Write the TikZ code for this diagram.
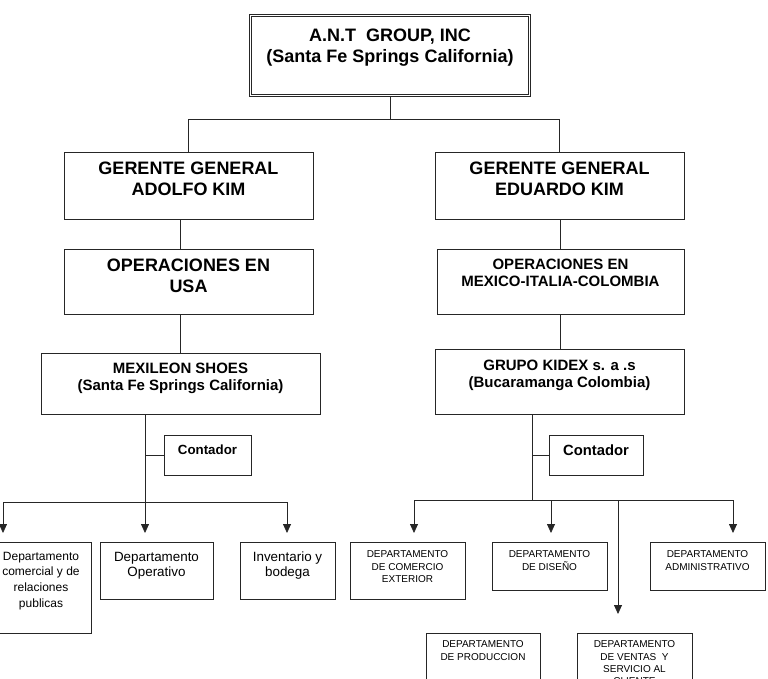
\documentclass[tikz,border=0pt]{standalone}
\usepackage{fontspec}
\setmainfont{Liberation Sans}
\usetikzlibrary{positioning,arrows.meta}
\tikzset{
  orgbox/.style={draw=black!85,line width=0.8pt,rectangle,inner sep=0pt},
  topbox/.style={orgbox,double,double distance=1.6pt},
  boxtxt/.style={inner sep=0pt,align=center,anchor=north},
  bigtxt/.style={boxtxt,font={\bfseries\fontsize{18}{20.7}\selectfont}},
  midtxt/.style={boxtxt,font={\bfseries\fontsize{15}{17.3}\selectfont}},
  deptxt/.style={boxtxt,font={\fontsize{13.4}{15}\selectfont}},
  capstxt/.style={boxtxt,font={\fontsize{10}{12.3}\selectfont}},
  conn/.style={draw=black!85,line width=0.8pt},
  connarr/.style={conn,-{Triangle[length=9pt,width=8pt]}},
}

\begin{document}
\begin{tikzpicture}[x=1pt,y=-1pt]
  \useasboundingbox (0,0) rectangle (768,678);
  \clip (0,0) rectangle (768,678);

  % top of the chart
  \node[topbox,minimum width=279pt,minimum height=80pt] (antg) at (390,55.5) {};
  \node[bigtxt,below=14pt of antg.north] (antgt) {A.N.T\ \ GROUP, INC\\(Santa Fe Springs California)};

  % managers
  \node[orgbox,minimum width=249pt,minimum height=67pt] (gerA) at (188.5,185.5) {};
  \node[bigtxt,below=10pt of gerA.north] (gerAt) {GERENTE GENERAL\\ADOLFO KIM};
  \node[orgbox,minimum width=249pt,minimum height=67pt] (gerE) at (559.5,185.5) {};
  \node[bigtxt,below=10pt of gerE.north] (gerEt) {GERENTE GENERAL\\EDUARDO KIM};

  % operations
  \node[orgbox,minimum width=249pt,minimum height=65pt] (opUSA) at (188.5,281.5) {};
  \node[bigtxt,below=10pt of opUSA.north] (opUSAt) {OPERACIONES EN\\USA};
  \node[orgbox,minimum width=247pt,minimum height=65pt] (opMIC) at (560.5,281.5) {};
  \node[midtxt,below=10pt of opMIC.north] (opMICt) {OPERACIONES EN\\MEXICO-ITALIA-COLOMBIA};

  % companies
  \node[orgbox,minimum width=279pt,minimum height=61pt] (mexi) at (180.5,383.5) {};
  \node[midtxt,below=10pt of mexi.north] (mexit) {MEXILEON SHOES\\(Santa Fe Springs California)};
  \node[orgbox,minimum width=249pt,minimum height=65pt] (kidex) at (559.5,381.5) {};
  \node[midtxt,below=11pt of kidex.north] (kidext) {GRUPO KIDEX s. a .s\\(Bucaramanga Colombia)};

  \node[orgbox,minimum width=87pt,minimum height=40pt] (contA) at (207.5,455) {};
  \node[boxtxt,font={\bfseries\fontsize{13.3}{15}\selectfont},below=10pt of contA.north] (contAt) {Contador};
  \node[orgbox,minimum width=94pt,minimum height=40pt] (contB) at (596,455) {};
  \node[boxtxt,font={\bfseries\fontsize{14.8}{17}\selectfont},below=10pt of contB.north] (contBt) {Contador};

  % departments, USA
  \node[orgbox,minimum width=100pt,minimum height=91pt] (dCom) at (41,587.5) {};
  \node[boxtxt,font={\fontsize{12}{15.7}\selectfont},below=10pt of dCom.north] (dComt) {Departamento\\comercial y de\\relaciones\\publicas};
  \node[orgbox,minimum width=113pt,minimum height=57pt] (dOper) at (156.5,570.5) {};
  \node[deptxt,below=10pt of dOper.north] (dOpert) {Departamento\\Operativo};
  \node[orgbox,minimum width=95pt,minimum height=57pt] (dInv) at (287.5,570.5) {};
  \node[deptxt,below=10pt of dInv.north] (dInvt) {Inventario y\\bodega};

  % departments, Colombia
  \node[orgbox,minimum width=115pt,minimum height=57pt] (dExt) at (407.5,570.5) {};
  \node[capstxt,below=9pt of dExt.north] (dExtt) {DEPARTAMENTO\\DE COMERCIO\\EXTERIOR};
  \node[orgbox,minimum width=115pt,minimum height=48pt] (dDis) at (549.5,566) {};
  \node[capstxt,below=9pt of dDis.north] (dDist) {DEPARTAMENTO\\DE DISEÑO};
  \node[orgbox,minimum width=115pt,minimum height=48pt] (dAdm) at (707.5,566) {};
  \node[capstxt,below=9pt of dAdm.north] (dAdmt) {DEPARTAMENTO\\ADMINISTRATIVO};
  \node[orgbox,minimum width=114pt,minimum height=62pt] (dProd) at (483,664) {};
  \node[capstxt,below=8pt of dProd.north] (dProdt) {DEPARTAMENTO\\DE PRODUCCION};
  \node[orgbox,minimum width=115pt,minimum height=67pt] (dVen) at (634.5,666.5) {};
  \node[capstxt,below=8pt of dVen.north] (dVent) {DEPARTAMENTO\\DE VENTAS\ \ Y\\SERVICIO AL\\CLIENTE};

  % connectors
  \coordinate (busTop) at (390,119);
  \draw[conn] (antg.south) -- (busTop);
  \draw[conn] (busTop) -| (gerA.north);
  \draw[conn] (busTop) -| (gerE.north);
  \draw[conn] (gerA.south -| mexi.north) -- (opUSA.north -| mexi.north);
  \draw[conn] (opUSA.south -| mexi.north) -- (mexi.north);
  \draw[conn] (gerE.south -| opMIC.north) -- (opMIC.north);
  \draw[conn] (opMIC.south) -- (opMIC.south |- kidex.north);

  \coordinate (busL) at (145,502);
  \coordinate (tipCom) at (3,533);
  \coordinate (tipOper) at (145,533);
  \coordinate (tipInv) at (287,533);
  \draw[conn] (mexi.south -| busL) -- (busL);
  \draw[conn] (contA.west -| busL) -- (contA.west);
  \draw[connarr] (busL) -| (tipCom);
  \draw[connarr] (busL) -- (tipOper);
  \draw[connarr] (busL) -| (tipInv);

  \coordinate (busR) at (532,500);
  \coordinate (tipExt) at (414,533);
  \coordinate (tipDis) at (551,533);
  \coordinate (tipVen) at (618,614);
  \coordinate (tipAdm) at (733,533);
  \draw[conn] (kidex.south -| busR) -- (busR);
  \draw[conn] (contB.west -| busR) -- (contB.west);
  \draw[connarr] (busR) -| (tipExt);
  \draw[connarr] (busR) -| (tipDis);
  \draw[connarr] (busR) -| (tipVen);
  \draw[connarr] (busR) -| (tipAdm);
\end{tikzpicture}
\end{document}
